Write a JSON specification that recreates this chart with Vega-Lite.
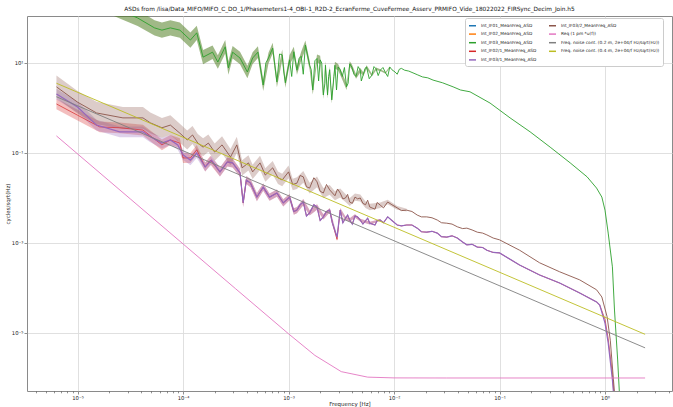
{
 "$schema": "https://vega.github.io/schema/vega-lite/v6.json",
 "width": 645, "height": 375,
 "autosize": {"type": "none"},
 "padding": {"left": 27, "top": 16, "right": 1, "bottom": 16},
 "background": "white",
 "title": {"text": "ASDs from /lisa/Data_MIFO/MIFO_C_DO_1/Phasemeters1-4_OBI-1_R2D-2_EcranFerme_CuveFermee_Asserv_PRMIFO_Vide_18022022_FIRSync_Decim_Join.h5", "fontSize": 5.8, "fontWeight": "normal", "font": "DejaVu Sans", "offset": 4, "anchor": "middle", "color": "#111"},
 "config": {
  "view": {"stroke": "#8a8a8a", "strokeWidth": 1},
  "axis": {"labelFont": "DejaVu Sans", "titleFont": "DejaVu Sans", "labelFontSize": 5.3, "titleFontSize": 5.5, "titleFontWeight": "normal", "labelColor": "#222", "titleColor": "#222", "tickColor": "#444", "tickWidth": 0.6, "domain": false, "gridColor": "#dcdcdc", "gridWidth": 0.9},
  "legend": {"labelFont": "DejaVu Sans", "labelFontSize": 4.3, "labelColor": "#222", "symbolType": "stroke", "symbolSize": 49, "symbolStrokeWidth": 1.5, "rowPadding": 0.6, "columnPadding": 9, "padding": 3, "fillColor": "white", "strokeColor": "#cccccc", "cornerRadius": 2, "labelOffset": 4, "labelLimit": 300}
 },
 "datasets": {
  "asd": [
   {"series":"Int_IF03_MeanFreq_ASD","freq":6.31e-6,"asd":562.3,"lo":371.5,"hi":851.1},
   {"series":"Int_IF03_MeanFreq_ASD","freq":1e-5,"asd":371.5,"lo":245.5,"hi":562.3},
   {"series":"Int_IF03_MeanFreq_ASD","freq":1.585e-5,"asd":234.4,"lo":154.9,"hi":354.8},
   {"series":"Int_IF03_MeanFreq_ASD","freq":2.512e-5,"asd":147.9,"lo":97.72,"hi":223.9},
   {"series":"Int_IF03_MeanFreq_ASD","freq":3.715e-5,"asd":100,"lo":66.07,"hi":151.4},
   {"series":"Int_IF03_MeanFreq_ASD","freq":5.37e-5,"asd":60.26,"lo":40.74,"hi":89.13},
   {"series":"Int_IF03_MeanFreq_ASD","freq":6.31e-5,"asd":53.7,"lo":36.31,"hi":79.43},
   {"series":"Int_IF03_MeanFreq_ASD","freq":7.586e-5,"asd":60.26,"lo":40.74,"hi":89.13},
   {"series":"Int_IF03_MeanFreq_ASD","freq":9.333e-5,"asd":53.7,"lo":36.31,"hi":79.43},
   {"series":"Int_IF03_MeanFreq_ASD","freq":1.175e-4,"asd":32.36,"lo":21.88,"hi":47.86},
   {"series":"Int_IF03_MeanFreq_ASD","freq":1.349e-4,"asd":46.77,"lo":32.36,"hi":67.61},
   {"series":"Int_IF03_MeanFreq_ASD","freq":1.549e-4,"asd":13.49,"lo":9.333,"hi":19.5},
   {"series":"Int_IF03_MeanFreq_ASD","freq":1.905e-4,"asd":17.38,"lo":12.3,"hi":24.55},
   {"series":"Int_IF03_MeanFreq_ASD","freq":2.138e-4,"asd":10.47,"lo":7.413,"hi":14.79},
   {"series":"Int_IF03_MeanFreq_ASD","freq":2.512e-4,"asd":22.91,"lo":16.22,"hi":32.36},
   {"series":"Int_IF03_MeanFreq_ASD","freq":2.692e-4,"asd":7.762,"lo":5.495,"hi":10.96},
   {"series":"Int_IF03_MeanFreq_ASD","freq":2.951e-4,"asd":17.38,"lo":12.59,"hi":23.99},
   {"series":"Int_IF03_MeanFreq_ASD","freq":3.467e-4,"asd":12.88,"lo":9.333,"hi":17.78},
   {"series":"Int_IF03_MeanFreq_ASD","freq":4.074e-4,"asd":6.31,"lo":4.571,"hi":8.71},
   {"series":"Int_IF03_MeanFreq_ASD","freq":4.571e-4,"asd":12.88,"lo":9.55,"hi":17.38},
   {"series":"Int_IF03_MeanFreq_ASD","freq":5.129e-4,"asd":17.38,"lo":12.88,"hi":23.44},
   {"series":"Int_IF03_MeanFreq_ASD","freq":5.754e-4,"asd":3.236,"lo":2.399,"hi":4.365},
   {"series":"Int_IF03_MeanFreq_ASD","freq":6.457e-4,"asd":12.88,"lo":9.772,"hi":16.98},
   {"series":"Int_IF03_MeanFreq_ASD","freq":7.079e-4,"asd":21.38,"lo":16.22,"hi":28.18},
   {"series":"Int_IF03_MeanFreq_ASD","freq":7.762e-4,"asd":3.802,"lo":2.884,"hi":5.012},
   {"series":"Int_IF03_MeanFreq_ASD","freq":8.71e-4,"asd":15.14,"lo":11.48,"hi":19.95},
   {"series":"Int_IF03_MeanFreq_ASD","freq":9.333e-4,"asd":3.631,"lo":2.818,"hi":4.677},
   {"series":"Int_IF03_MeanFreq_ASD","freq":1.023e-3,"asd":11.75,"lo":9.12,"hi":15.14},
   {"series":"Int_IF03_MeanFreq_ASD","freq":1.122e-3,"asd":17.78,"lo":13.8,"hi":22.91},
   {"series":"Int_IF03_MeanFreq_ASD","freq":1.202e-3,"asd":6.918,"lo":5.495,"hi":8.71},
   {"series":"Int_IF03_MeanFreq_ASD","freq":1.318e-3,"asd":14.13,"lo":11.22,"hi":17.78},
   {"series":"Int_IF03_MeanFreq_ASD","freq":1.445e-3,"asd":25.12,"lo":19.95,"hi":31.62},
   {"series":"Int_IF03_MeanFreq_ASD","freq":1.585e-3,"asd":8.913,"lo":7.079,"hi":11.22},
   {"series":"Int_IF03_MeanFreq_ASD","freq":1.698e-3,"asd":2.512,"lo":1.995,"hi":3.162},
   {"series":"Int_IF03_MeanFreq_ASD","freq":1.862e-3,"asd":12.59,"lo":10.23,"hi":15.49},
   {"series":"Int_IF03_MeanFreq_ASD","freq":1.995e-3,"asd":11.75,"lo":9.55,"hi":14.45},
   {"series":"Int_IF03_MeanFreq_ASD","freq":2.138e-3,"asd":1.95,"lo":1.585,"hi":2.399},
   {"series":"Int_IF03_MeanFreq_ASD","freq":2.239e-3,"asd":8.913,"lo":7.244,"hi":10.96},
   {"series":"Int_IF03_MeanFreq_ASD","freq":2.344e-3,"asd":1.95,"lo":1.622,"hi":2.344},
   {"series":"Int_IF03_MeanFreq_ASD","freq":2.455e-3,"asd":7.079,"lo":5.888,"hi":8.511},
   {"series":"Int_IF03_MeanFreq_ASD","freq":2.57e-3,"asd":1.514,"lo":1.259,"hi":1.82},
   {"series":"Int_IF03_MeanFreq_ASD","freq":2.754e-3,"asd":8.913,"lo":7.413,"hi":10.72},
   {"series":"Int_IF03_MeanFreq_ASD","freq":2.951e-3,"asd":8.128,"lo":6.918,"hi":9.55},
   {"series":"Int_IF03_MeanFreq_ASD","freq":3.236e-3,"asd":5.012,"lo":4.266,"hi":5.888},
   {"series":"Int_IF03_MeanFreq_ASD","freq":3.548e-3,"asd":2.951,"lo":2.512,"hi":3.467},
   {"series":"Int_IF03_MeanFreq_ASD","freq":3.802e-3,"asd":9.55,"lo":8.318,"hi":10.96},
   {"series":"Int_IF03_MeanFreq_ASD","freq":3.981e-3,"asd":8.128,"lo":7.079,"hi":9.333},
   {"series":"Int_IF03_MeanFreq_ASD","freq":4.365e-3,"asd":5.012,"lo":4.467,"hi":5.623},
   {"series":"Int_IF03_MeanFreq_ASD","freq":4.786e-3,"asd":6.918,"lo":6.166,"hi":7.762},
   {"series":"Int_IF03_MeanFreq_ASD","freq":5.129e-3,"asd":5.623,"lo":5.129,"hi":6.166},
   {"series":"Int_IF03_MeanFreq_ASD","freq":5.495e-3,"asd":8.128,"lo":7.413,"hi":8.913},
   {"series":"Int_IF03_MeanFreq_ASD","freq":6.166e-3,"asd":5.37,"lo":5.012,"hi":5.754},
   {"series":"Int_IF03_MeanFreq_ASD","freq":6.761e-3,"asd":7.413,"lo":6.918,"hi":7.943},
   {"series":"Int_IF03_MeanFreq_ASD","freq":7.413e-3,"asd":6.918,"lo":6.607,"hi":7.244},
   {"series":"Int_IF03_MeanFreq_ASD","freq":8.318e-3,"asd":6.026,"lo":5.754,"hi":6.31},
   {"series":"Int_IF03_MeanFreq_ASD","freq":9.12e-3,"asd":8.128,"lo":7.762,"hi":8.511},
   {"series":"Int_IF03_MeanFreq_ASD","freq":1.023e-2,"asd":6.31},
   {"series":"Int_IF03_MeanFreq_ASD","freq":1.122e-2,"asd":7.244},
   {"series":"Int_IF03_MeanFreq_ASD","freq":1.259e-2,"asd":6.918},
   {"series":"Int_IF03_MeanFreq_ASD","freq":1.514e-2,"asd":6.026},
   {"series":"Int_IF03_MeanFreq_ASD","freq":1.862e-2,"asd":4.898},
   {"series":"Int_IF03_MeanFreq_ASD","freq":2.344e-2,"asd":4.169},
   {"series":"Int_IF03_MeanFreq_ASD","freq":2.884e-2,"asd":3.631},
   {"series":"Int_IF03_MeanFreq_ASD","freq":3.631e-2,"asd":2.951},
   {"series":"Int_IF03_MeanFreq_ASD","freq":4.266e-2,"asd":2.512},
   {"series":"Int_IF03_MeanFreq_ASD","freq":5.248e-2,"asd":2.291},
   {"series":"Int_IF03_MeanFreq_ASD","freq":8.128e-2,"asd":1.288},
   {"series":"Int_IF03_MeanFreq_ASD","freq":0.1259,"asd":0.6026},
   {"series":"Int_IF03_MeanFreq_ASD","freq":0.195,"asd":0.2951},
   {"series":"Int_IF03_MeanFreq_ASD","freq":0.302,"asd":0.1349},
   {"series":"Int_IF03_MeanFreq_ASD","freq":0.4677,"asd":0.06026},
   {"series":"Int_IF03_MeanFreq_ASD","freq":0.6761,"asd":0.02951},
   {"series":"Int_IF03_MeanFreq_ASD","freq":0.8318,"asd":0.0166},
   {"series":"Int_IF03_MeanFreq_ASD","freq":0.9333,"asd":0.01047},
   {"series":"Int_IF03_MeanFreq_ASD","freq":1,"asd":5.37e-3},
   {"series":"Int_IF03_MeanFreq_ASD","freq":1.072,"asd":1.66e-3},
   {"series":"Int_IF03_MeanFreq_ASD","freq":1.175,"asd":2.951e-4},
   {"series":"Int_IF03_MeanFreq_ASD","freq":1.23,"asd":3.236e-5},
   {"series":"Int_IF03_MeanFreq_ASD","freq":1.318,"asd":2.512e-6},
   {"series":"Int_IF03_MeanFreq_ASD","freq":1.38,"asd":3.236e-7},
   {"series":"Int_IF03_MeanFreq_ASD","freq":6.095e-4,"asd":10},
   {"series":"Int_IF03_MeanFreq_ASD","freq":7.413e-4,"asd":8.913},
   {"series":"Int_IF03_MeanFreq_ASD","freq":8.222e-4,"asd":15.85},
   {"series":"Int_IF03_MeanFreq_ASD","freq":9.016e-4,"asd":6.31},
   {"series":"Int_IF03_MeanFreq_ASD","freq":1.072e-3,"asd":5.012},
   {"series":"Int_IF03_MeanFreq_ASD","freq":1.259e-3,"asd":12.59},
   {"series":"Int_IF03_MeanFreq_ASD","freq":1.38e-3,"asd":5.623},
   {"series":"Int_IF03_MeanFreq_ASD","freq":1.641e-3,"asd":7.079},
   {"series":"Int_IF03_MeanFreq_ASD","freq":1.778e-3,"asd":11.22},
   {"series":"Int_IF03_MeanFreq_ASD","freq":1.928e-3,"asd":3.981},
   {"series":"Int_IF03_MeanFreq_ASD","freq":2.065e-3,"asd":10},
   {"series":"Int_IF03_MeanFreq_ASD","freq":2.213e-3,"asd":3.548},
   {"series":"Int_IF03_MeanFreq_ASD","freq":2.399e-3,"asd":5.012},
   {"series":"Int_IF03_MeanFreq_ASD","freq":2.692e-3,"asd":5.012},
   {"series":"Int_IF03_MeanFreq_ASD","freq":2.851e-3,"asd":2.512},
   {"series":"Int_IF03_MeanFreq_ASD","freq":3.09e-3,"asd":7.079},
   {"series":"Int_IF03_MeanFreq_ASD","freq":3.388e-3,"asd":7.943},
   {"series":"Int_IF03_MeanFreq_ASD","freq":3.673e-3,"asd":3.548},
   {"series":"Int_IF03_MeanFreq_ASD","freq":4.169e-3,"asd":5.623},
   {"series":"Int_IF03_MeanFreq_ASD","freq":4.571e-3,"asd":8.318},
   {"series":"Int_IF03_MeanFreq_ASD","freq":4.898e-3,"asd":3.981},
   {"series":"Int_IF03_MeanFreq_ASD","freq":5.309e-3,"asd":7.586},
   {"series":"Int_IF03_MeanFreq_ASD","freq":5.821e-3,"asd":4.467},
   {"series":"Int_IF03_MeanFreq_ASD","freq":6.457e-3,"asd":8.318},
   {"series":"Int_IF03_MeanFreq_ASD","freq":7.079e-3,"asd":5.248},
   {"series":"Int_IF03_MeanFreq_ASD","freq":7.852e-3,"asd":7.943},
   {"series":"Int_IF03_MeanFreq_ASD","freq":8.71e-3,"asd":5.012},
   {"series":"Int_IF03_MeanFreq_ASD","freq":9.55e-3,"asd":7.079},
   {"series":"Int_IF03_MeanFreq_ASD","freq":1.072e-2,"asd":5.623},
   {"series":"Int_IF03_MeanFreq_ASD","freq":1.175e-2,"asd":7.586},
   {"series":"Int_IF03_MeanFreq_ASD","freq":1.38e-2,"asd":6.607},
   {"series":"Int_IF03_MeanFreq_ASD","freq":1.66e-2,"asd":5.495},
   {"series":"Int_IF03_MeanFreq_ASD","freq":2.089e-2,"asd":4.677},

   {"series":"Int_IF02/1_MeanFreq_ASD","freq":6.31e-6,"asd":1.23,"lo":0.9333,"hi":1.622},
   {"series":"Int_IF02/1_MeanFreq_ASD","freq":1e-5,"asd":0.6918,"lo":0.5248,"hi":0.912},
   {"series":"Int_IF02/1_MeanFreq_ASD","freq":1.622e-5,"asd":0.3802,"lo":0.2884,"hi":0.5012},
   {"series":"Int_IF02/1_MeanFreq_ASD","freq":2.512e-5,"asd":0.3631,"lo":0.2754,"hi":0.4786},
   {"series":"Int_IF02/1_MeanFreq_ASD","freq":4.169e-5,"asd":0.3236,"lo":0.2455,"hi":0.4266},
   {"series":"Int_IF02/1_MeanFreq_ASD","freq":6.31e-5,"asd":0.1514,"lo":0.1148,"hi":0.1995},
   {"series":"Int_IF02/1_MeanFreq_ASD","freq":7.586e-5,"asd":0.195,"lo":0.1514,"hi":0.2512},
   {"series":"Int_IF02/1_MeanFreq_ASD","freq":9.333e-5,"asd":0.166,"lo":0.1288,"hi":0.2138},
   {"series":"Int_IF02/1_MeanFreq_ASD","freq":1e-4,"asd":0.07762,"lo":0.06026,"hi":0.1},
   {"series":"Int_IF02/1_MeanFreq_ASD","freq":1.175e-4,"asd":0.07762,"lo":0.06026,"hi":0.1},
   {"series":"Int_IF02/1_MeanFreq_ASD","freq":1.349e-4,"asd":0.1175,"lo":0.0912,"hi":0.1514},
   {"series":"Int_IF02/1_MeanFreq_ASD","freq":1.622e-4,"asd":0.04898,"lo":0.0389,"hi":0.06166},
   {"series":"Int_IF02/1_MeanFreq_ASD","freq":1.82e-4,"asd":0.06918,"lo":0.05495,"hi":0.0871},
   {"series":"Int_IF02/1_MeanFreq_ASD","freq":2.239e-4,"asd":0.03802,"lo":0.0302,"hi":0.04786},
   {"series":"Int_IF02/1_MeanFreq_ASD","freq":2.63e-4,"asd":0.0631,"lo":0.05012,"hi":0.07943},
   {"series":"Int_IF02/1_MeanFreq_ASD","freq":2.951e-4,"asd":0.06026,"lo":0.04786,"hi":0.07586},
   {"series":"Int_IF02/1_MeanFreq_ASD","freq":3.467e-4,"asd":0.03631,"lo":0.02951,"hi":0.04467},
   {"series":"Int_IF02/1_MeanFreq_ASD","freq":3.715e-4,"asd":7.762e-3,"lo":6.31e-3,"hi":9.55e-3},
   {"series":"Int_IF02/1_MeanFreq_ASD","freq":3.981e-4,"asd":0.02512,"lo":0.02042,"hi":0.0309},
   {"series":"Int_IF02/1_MeanFreq_ASD","freq":4.365e-4,"asd":0.02138,"lo":0.01738,"hi":0.0263},
   {"series":"Int_IF02/1_MeanFreq_ASD","freq":5.012e-4,"asd":0.01047,"lo":8.511e-3,"hi":0.01288},
   {"series":"Int_IF02/1_MeanFreq_ASD","freq":5.754e-4,"asd":0.01738,"lo":0.01445,"hi":0.02089},
   {"series":"Int_IF02/1_MeanFreq_ASD","freq":6.607e-4,"asd":0.01047,"lo":8.71e-3,"hi":0.01259},
   {"series":"Int_IF02/1_MeanFreq_ASD","freq":7.762e-4,"asd":0.01288,"lo":0.01072,"hi":0.01549},
   {"series":"Int_IF02/1_MeanFreq_ASD","freq":8.913e-4,"asd":7.762e-3,"lo":6.457e-3,"hi":9.333e-3},
   {"series":"Int_IF02/1_MeanFreq_ASD","freq":1.023e-3,"asd":0.01047,"lo":8.913e-3,"hi":0.0123},
   {"series":"Int_IF02/1_MeanFreq_ASD","freq":1.122e-3,"asd":5.012e-3,"lo":4.266e-3,"hi":5.888e-3},
   {"series":"Int_IF02/1_MeanFreq_ASD","freq":1.202e-3,"asd":5.37e-3,"lo":4.571e-3,"hi":6.31e-3},
   {"series":"Int_IF02/1_MeanFreq_ASD","freq":1.38e-3,"asd":8.128e-3,"lo":6.918e-3,"hi":9.55e-3},
   {"series":"Int_IF02/1_MeanFreq_ASD","freq":1.585e-3,"asd":4.677e-3,"lo":4.074e-3,"hi":5.37e-3},
   {"series":"Int_IF02/1_MeanFreq_ASD","freq":1.862e-3,"asd":6.31e-3,"lo":5.495e-3,"hi":7.244e-3},
   {"series":"Int_IF02/1_MeanFreq_ASD","freq":2.138e-3,"asd":3.802e-3,"lo":3.311e-3,"hi":4.365e-3},
   {"series":"Int_IF02/1_MeanFreq_ASD","freq":2.455e-3,"asd":5.37e-3,"lo":4.786e-3,"hi":6.026e-3},
   {"series":"Int_IF02/1_MeanFreq_ASD","freq":2.884e-3,"asd":1.2e-3,"lo":1.1e-3,"hi":1.4e-3},
   {"series":"Int_IF02/1_MeanFreq_ASD","freq":3.09e-3,"asd":5.37e-3,"lo":4.786e-3,"hi":6.026e-3},
   {"series":"Int_IF02/1_MeanFreq_ASD","freq":3.467e-3,"asd":3.548e-3,"lo":3.236e-3,"hi":3.89e-3},
   {"series":"Int_IF02/1_MeanFreq_ASD","freq":3.802e-3,"asd":3.236e-3,"lo":2.951e-3,"hi":3.548e-3},
   {"series":"Int_IF02/1_MeanFreq_ASD","freq":4.266e-3,"asd":3.981e-3,"lo":3.631e-3,"hi":4.365e-3},
   {"series":"Int_IF02/1_MeanFreq_ASD","freq":4.786e-3,"asd":3.236e-3,"lo":3.02e-3,"hi":3.467e-3},
   {"series":"Int_IF02/1_MeanFreq_ASD","freq":5.888e-3,"asd":2.754e-3,"lo":2.57e-3,"hi":2.951e-3},
   {"series":"Int_IF02/1_MeanFreq_ASD","freq":7.413e-3,"asd":3.236e-3,"lo":3.09e-3,"hi":3.388e-3},
   {"series":"Int_IF02/1_MeanFreq_ASD","freq":8.71e-3,"asd":3.802e-3},
   {"series":"Int_IF02/1_MeanFreq_ASD","freq":1.072e-2,"asd":2.512e-3},
   {"series":"Int_IF02/1_MeanFreq_ASD","freq":1.318e-2,"asd":2.512e-3},
   {"series":"Int_IF02/1_MeanFreq_ASD","freq":1.66e-2,"asd":2.138e-3},
   {"series":"Int_IF02/1_MeanFreq_ASD","freq":2.042e-2,"asd":1.738e-3},
   {"series":"Int_IF02/1_MeanFreq_ASD","freq":2.57e-2,"asd":1.66e-3},
   {"series":"Int_IF02/1_MeanFreq_ASD","freq":3.162e-2,"asd":1.349e-3},
   {"series":"Int_IF02/1_MeanFreq_ASD","freq":3.981e-2,"asd":1.288e-3},
   {"series":"Int_IF02/1_MeanFreq_ASD","freq":4.898e-2,"asd":9.12e-4},
   {"series":"Int_IF02/1_MeanFreq_ASD","freq":6.166e-2,"asd":8.128e-4},
   {"series":"Int_IF02/1_MeanFreq_ASD","freq":7.586e-2,"asd":6.918e-4},
   {"series":"Int_IF02/1_MeanFreq_ASD","freq":0.1,"asd":6.026e-4},
   {"series":"Int_IF02/1_MeanFreq_ASD","freq":0.1549,"asd":3.236e-4},
   {"series":"Int_IF02/1_MeanFreq_ASD","freq":0.2399,"asd":1.95e-4},
   {"series":"Int_IF02/1_MeanFreq_ASD","freq":0.3715,"asd":1.288e-4},
   {"series":"Int_IF02/1_MeanFreq_ASD","freq":0.5754,"asd":7.762e-5},
   {"series":"Int_IF02/1_MeanFreq_ASD","freq":0.8318,"asd":4.898e-5},
   {"series":"Int_IF02/1_MeanFreq_ASD","freq":0.8913,"asd":4.169e-5},
   {"series":"Int_IF02/1_MeanFreq_ASD","freq":1,"asd":2.0e-5},
   {"series":"Int_IF02/1_MeanFreq_ASD","freq":1.072,"asd":7.5e-6},
   {"series":"Int_IF02/1_MeanFreq_ASD","freq":1.175,"asd":1.2e-6},
   {"series":"Int_IF02/1_MeanFreq_ASD","freq":1.23,"asd":3.0e-7},
   {"series":"Int_IF02/1_MeanFreq_ASD","freq":1.288e-3,"asd":7.079e-3},
   {"series":"Int_IF02/1_MeanFreq_ASD","freq":1.479e-3,"asd":3.981e-3},
   {"series":"Int_IF02/1_MeanFreq_ASD","freq":1.738e-3,"asd":7.079e-3},
   {"series":"Int_IF02/1_MeanFreq_ASD","freq":1.995e-3,"asd":3.162e-3},
   {"series":"Int_IF02/1_MeanFreq_ASD","freq":2.291e-3,"asd":5.012e-3},
   {"series":"Int_IF02/1_MeanFreq_ASD","freq":2.6e-3,"asd":2.818e-3},
   {"series":"Int_IF02/1_MeanFreq_ASD","freq":3.273e-3,"asd":2.818e-3},
   {"series":"Int_IF02/1_MeanFreq_ASD","freq":3.631e-3,"asd":4.169e-3},
   {"series":"Int_IF02/1_MeanFreq_ASD","freq":4.027e-3,"asd":2.63e-3},
   {"series":"Int_IF02/1_MeanFreq_ASD","freq":4.519e-3,"asd":3.802e-3},
   {"series":"Int_IF02/1_MeanFreq_ASD","freq":5.07e-3,"asd":2.63e-3},
   {"series":"Int_IF02/1_MeanFreq_ASD","freq":5.623e-3,"asd":3.548e-3},
   {"series":"Int_IF02/1_MeanFreq_ASD","freq":6.607e-3,"asd":2.512e-3},
   {"series":"Int_IF02/1_MeanFreq_ASD","freq":6.918e-3,"asd":3.162e-3},
   {"series":"Int_IF02/1_MeanFreq_ASD","freq":7.943e-3,"asd":2.818e-3},
   {"series":"Int_IF02/1_MeanFreq_ASD","freq":9.55e-3,"asd":3.162e-3},
   {"series":"Int_IF02/1_MeanFreq_ASD","freq":1.175e-2,"asd":2.399e-3},
   {"series":"Int_IF02/1_MeanFreq_ASD","freq":1.479e-2,"asd":2.512e-3},
   {"series":"Int_IF02/1_MeanFreq_ASD","freq":1.82e-2,"asd":1.778e-3},
   {"series":"Int_IF02/1_MeanFreq_ASD","freq":2.291e-2,"asd":1.82e-3},
   {"series":"Int_IF02/1_MeanFreq_ASD","freq":2.818e-2,"asd":1.38e-3},
   {"series":"Int_IF02/1_MeanFreq_ASD","freq":3.548e-2,"asd":1.445e-3},
   {"series":"Int_IF02/1_MeanFreq_ASD","freq":4.467e-2,"asd":1.047e-3},
   {"series":"Int_IF02/1_MeanFreq_ASD","freq":5.495e-2,"asd":9.333e-4},
   {"series":"Int_IF02/1_MeanFreq_ASD","freq":6.918e-2,"asd":7.943e-4},
   {"series":"Int_IF02/1_MeanFreq_ASD","freq":8.71e-2,"asd":6.166e-4},

   {"series":"Int_IF03/1_MeanFreq_ASD","freq":6.31e-6,"asd":2.042,"lo":1.549,"hi":2.692},
   {"series":"Int_IF03/1_MeanFreq_ASD","freq":1e-5,"asd":1.047,"lo":0.7943,"hi":1.38},
   {"series":"Int_IF03/1_MeanFreq_ASD","freq":1.514e-5,"asd":0.4169,"lo":0.3162,"hi":0.5495},
   {"series":"Int_IF03/1_MeanFreq_ASD","freq":2.512e-5,"asd":0.2951,"lo":0.2239,"hi":0.389},
   {"series":"Int_IF03/1_MeanFreq_ASD","freq":4.169e-5,"asd":0.2951,"lo":0.2239,"hi":0.389},
   {"series":"Int_IF03/1_MeanFreq_ASD","freq":4.898e-5,"asd":0.2291,"lo":0.1738,"hi":0.302},
   {"series":"Int_IF03/1_MeanFreq_ASD","freq":6.31e-5,"asd":0.166,"lo":0.1259,"hi":0.2188},
   {"series":"Int_IF03/1_MeanFreq_ASD","freq":7.586e-5,"asd":0.195,"lo":0.1514,"hi":0.2512},
   {"series":"Int_IF03/1_MeanFreq_ASD","freq":8.913e-5,"asd":0.1514,"lo":0.1175,"hi":0.195},
   {"series":"Int_IF03/1_MeanFreq_ASD","freq":1e-4,"asd":0.0912,"lo":0.07079,"hi":0.1175},
   {"series":"Int_IF03/1_MeanFreq_ASD","freq":1.175e-4,"asd":0.06918,"lo":0.0537,"hi":0.08913},
   {"series":"Int_IF03/1_MeanFreq_ASD","freq":1.349e-4,"asd":0.1,"lo":0.07762,"hi":0.1288},
   {"series":"Int_IF03/1_MeanFreq_ASD","freq":1.622e-4,"asd":0.04898,"lo":0.0389,"hi":0.06166},
   {"series":"Int_IF03/1_MeanFreq_ASD","freq":1.862e-4,"asd":0.06918,"lo":0.05495,"hi":0.0871},
   {"series":"Int_IF03/1_MeanFreq_ASD","freq":2.239e-4,"asd":0.03802,"lo":0.0302,"hi":0.04786},
   {"series":"Int_IF03/1_MeanFreq_ASD","freq":2.63e-4,"asd":0.0631,"lo":0.05012,"hi":0.07943},
   {"series":"Int_IF03/1_MeanFreq_ASD","freq":2.951e-4,"asd":0.06026,"lo":0.04786,"hi":0.07586},
   {"series":"Int_IF03/1_MeanFreq_ASD","freq":3.467e-4,"asd":0.03631,"lo":0.02951,"hi":0.04467},
   {"series":"Int_IF03/1_MeanFreq_ASD","freq":3.715e-4,"asd":7.762e-3,"lo":6.31e-3,"hi":9.55e-3},
   {"series":"Int_IF03/1_MeanFreq_ASD","freq":3.981e-4,"asd":0.02512,"lo":0.02042,"hi":0.0309},
   {"series":"Int_IF03/1_MeanFreq_ASD","freq":4.365e-4,"asd":0.02138,"lo":0.01738,"hi":0.0263},
   {"series":"Int_IF03/1_MeanFreq_ASD","freq":5.012e-4,"asd":0.01047,"lo":8.511e-3,"hi":0.01288},
   {"series":"Int_IF03/1_MeanFreq_ASD","freq":5.754e-4,"asd":0.01738,"lo":0.01445,"hi":0.02089},
   {"series":"Int_IF03/1_MeanFreq_ASD","freq":6.607e-4,"asd":0.01047,"lo":8.71e-3,"hi":0.01259},
   {"series":"Int_IF03/1_MeanFreq_ASD","freq":7.762e-4,"asd":0.01288,"lo":0.01072,"hi":0.01549},
   {"series":"Int_IF03/1_MeanFreq_ASD","freq":8.913e-4,"asd":7.762e-3,"lo":6.457e-3,"hi":9.333e-3},
   {"series":"Int_IF03/1_MeanFreq_ASD","freq":1.023e-3,"asd":0.01047,"lo":8.913e-3,"hi":0.0123},
   {"series":"Int_IF03/1_MeanFreq_ASD","freq":1.122e-3,"asd":5.012e-3,"lo":4.266e-3,"hi":5.888e-3},
   {"series":"Int_IF03/1_MeanFreq_ASD","freq":1.202e-3,"asd":5.37e-3,"lo":4.571e-3,"hi":6.31e-3},
   {"series":"Int_IF03/1_MeanFreq_ASD","freq":1.38e-3,"asd":8.128e-3,"lo":6.918e-3,"hi":9.55e-3},
   {"series":"Int_IF03/1_MeanFreq_ASD","freq":1.585e-3,"asd":4.677e-3,"lo":4.074e-3,"hi":5.37e-3},
   {"series":"Int_IF03/1_MeanFreq_ASD","freq":1.862e-3,"asd":6.31e-3,"lo":5.495e-3,"hi":7.244e-3},
   {"series":"Int_IF03/1_MeanFreq_ASD","freq":2.138e-3,"asd":3.802e-3,"lo":3.311e-3,"hi":4.365e-3},
   {"series":"Int_IF03/1_MeanFreq_ASD","freq":2.455e-3,"asd":5.37e-3,"lo":4.786e-3,"hi":6.026e-3},
   {"series":"Int_IF03/1_MeanFreq_ASD","freq":2.884e-3,"asd":1.349e-3,"lo":1.202e-3,"hi":1.514e-3},
   {"series":"Int_IF03/1_MeanFreq_ASD","freq":3.09e-3,"asd":5.37e-3,"lo":4.786e-3,"hi":6.026e-3},
   {"series":"Int_IF03/1_MeanFreq_ASD","freq":3.467e-3,"asd":3.548e-3,"lo":3.236e-3,"hi":3.89e-3},
   {"series":"Int_IF03/1_MeanFreq_ASD","freq":3.802e-3,"asd":3.236e-3,"lo":2.951e-3,"hi":3.548e-3},
   {"series":"Int_IF03/1_MeanFreq_ASD","freq":4.266e-3,"asd":3.981e-3,"lo":3.631e-3,"hi":4.365e-3},
   {"series":"Int_IF03/1_MeanFreq_ASD","freq":4.786e-3,"asd":3.236e-3,"lo":3.02e-3,"hi":3.467e-3},
   {"series":"Int_IF03/1_MeanFreq_ASD","freq":5.888e-3,"asd":2.754e-3,"lo":2.57e-3,"hi":2.951e-3},
   {"series":"Int_IF03/1_MeanFreq_ASD","freq":7.413e-3,"asd":3.236e-3,"lo":3.09e-3,"hi":3.388e-3},
   {"series":"Int_IF03/1_MeanFreq_ASD","freq":8.71e-3,"asd":3.802e-3},
   {"series":"Int_IF03/1_MeanFreq_ASD","freq":1.072e-2,"asd":2.512e-3},
   {"series":"Int_IF03/1_MeanFreq_ASD","freq":1.318e-2,"asd":2.512e-3},
   {"series":"Int_IF03/1_MeanFreq_ASD","freq":1.66e-2,"asd":2.138e-3},
   {"series":"Int_IF03/1_MeanFreq_ASD","freq":2.042e-2,"asd":1.738e-3},
   {"series":"Int_IF03/1_MeanFreq_ASD","freq":2.57e-2,"asd":1.66e-3},
   {"series":"Int_IF03/1_MeanFreq_ASD","freq":3.162e-2,"asd":1.349e-3},
   {"series":"Int_IF03/1_MeanFreq_ASD","freq":3.981e-2,"asd":1.288e-3},
   {"series":"Int_IF03/1_MeanFreq_ASD","freq":4.898e-2,"asd":9.12e-4},
   {"series":"Int_IF03/1_MeanFreq_ASD","freq":6.166e-2,"asd":8.128e-4},
   {"series":"Int_IF03/1_MeanFreq_ASD","freq":7.586e-2,"asd":6.918e-4},
   {"series":"Int_IF03/1_MeanFreq_ASD","freq":0.1,"asd":6.026e-4},
   {"series":"Int_IF03/1_MeanFreq_ASD","freq":0.1549,"asd":3.236e-4},
   {"series":"Int_IF03/1_MeanFreq_ASD","freq":0.2399,"asd":1.95e-4},
   {"series":"Int_IF03/1_MeanFreq_ASD","freq":0.3715,"asd":1.288e-4},
   {"series":"Int_IF03/1_MeanFreq_ASD","freq":0.5754,"asd":7.762e-5},
   {"series":"Int_IF03/1_MeanFreq_ASD","freq":0.8318,"asd":4.898e-5},
   {"series":"Int_IF03/1_MeanFreq_ASD","freq":0.8913,"asd":4.169e-5},
   {"series":"Int_IF03/1_MeanFreq_ASD","freq":1,"asd":1.66e-5},
   {"series":"Int_IF03/1_MeanFreq_ASD","freq":1.072,"asd":6.026e-6},
   {"series":"Int_IF03/1_MeanFreq_ASD","freq":1.175,"asd":9.12e-7},
   {"series":"Int_IF03/1_MeanFreq_ASD","freq":1.23,"asd":2.512e-7},
   {"series":"Int_IF03/1_MeanFreq_ASD","freq":1.288e-3,"asd":7.079e-3},
   {"series":"Int_IF03/1_MeanFreq_ASD","freq":1.479e-3,"asd":3.981e-3},
   {"series":"Int_IF03/1_MeanFreq_ASD","freq":1.738e-3,"asd":7.079e-3},
   {"series":"Int_IF03/1_MeanFreq_ASD","freq":1.995e-3,"asd":3.162e-3},
   {"series":"Int_IF03/1_MeanFreq_ASD","freq":2.291e-3,"asd":5.012e-3},
   {"series":"Int_IF03/1_MeanFreq_ASD","freq":2.6e-3,"asd":2.818e-3},
   {"series":"Int_IF03/1_MeanFreq_ASD","freq":3.273e-3,"asd":2.818e-3},
   {"series":"Int_IF03/1_MeanFreq_ASD","freq":3.631e-3,"asd":4.169e-3},
   {"series":"Int_IF03/1_MeanFreq_ASD","freq":4.027e-3,"asd":2.63e-3},
   {"series":"Int_IF03/1_MeanFreq_ASD","freq":4.519e-3,"asd":3.802e-3},
   {"series":"Int_IF03/1_MeanFreq_ASD","freq":5.07e-3,"asd":2.63e-3},
   {"series":"Int_IF03/1_MeanFreq_ASD","freq":5.623e-3,"asd":3.548e-3},
   {"series":"Int_IF03/1_MeanFreq_ASD","freq":6.607e-3,"asd":2.512e-3},
   {"series":"Int_IF03/1_MeanFreq_ASD","freq":6.918e-3,"asd":3.162e-3},
   {"series":"Int_IF03/1_MeanFreq_ASD","freq":7.943e-3,"asd":2.818e-3},
   {"series":"Int_IF03/1_MeanFreq_ASD","freq":9.55e-3,"asd":3.162e-3},
   {"series":"Int_IF03/1_MeanFreq_ASD","freq":1.175e-2,"asd":2.399e-3},
   {"series":"Int_IF03/1_MeanFreq_ASD","freq":1.479e-2,"asd":2.512e-3},
   {"series":"Int_IF03/1_MeanFreq_ASD","freq":1.82e-2,"asd":1.778e-3},
   {"series":"Int_IF03/1_MeanFreq_ASD","freq":2.291e-2,"asd":1.82e-3},
   {"series":"Int_IF03/1_MeanFreq_ASD","freq":2.818e-2,"asd":1.38e-3},
   {"series":"Int_IF03/1_MeanFreq_ASD","freq":3.548e-2,"asd":1.445e-3},
   {"series":"Int_IF03/1_MeanFreq_ASD","freq":4.467e-2,"asd":1.047e-3},
   {"series":"Int_IF03/1_MeanFreq_ASD","freq":5.495e-2,"asd":9.333e-4},
   {"series":"Int_IF03/1_MeanFreq_ASD","freq":6.918e-2,"asd":7.943e-4},
   {"series":"Int_IF03/1_MeanFreq_ASD","freq":8.71e-2,"asd":6.166e-4},

   {"series":"Int_IF03/2_MeanFreq_ASD","freq":6.31e-6,"asd":2.951,"lo":1.66,"hi":5.248},
   {"series":"Int_IF03/2_MeanFreq_ASD","freq":1e-5,"asd":1.349,"lo":0.7586,"hi":2.399},
   {"series":"Int_IF03/2_MeanFreq_ASD","freq":1.514e-5,"asd":0.7762,"lo":0.4365,"hi":1.38},
   {"series":"Int_IF03/2_MeanFreq_ASD","freq":2.692e-5,"asd":0.6026,"lo":0.3467,"hi":1.047},
   {"series":"Int_IF03/2_MeanFreq_ASD","freq":4.169e-5,"asd":0.6026,"lo":0.3467,"hi":1.047},
   {"series":"Int_IF03/2_MeanFreq_ASD","freq":4.898e-5,"asd":0.4677,"lo":0.2754,"hi":0.7943},
   {"series":"Int_IF03/2_MeanFreq_ASD","freq":6.31e-5,"asd":0.3631,"lo":0.2188,"hi":0.6026},
   {"series":"Int_IF03/2_MeanFreq_ASD","freq":7.586e-5,"asd":0.4169,"lo":0.2512,"hi":0.6918},
   {"series":"Int_IF03/2_MeanFreq_ASD","freq":9.333e-5,"asd":0.2754,"lo":0.1698,"hi":0.4467},
   {"series":"Int_IF03/2_MeanFreq_ASD","freq":1.096e-4,"asd":0.195,"lo":0.1202,"hi":0.3162},
   {"series":"Int_IF03/2_MeanFreq_ASD","freq":1.23e-4,"asd":0.2512,"lo":0.1585,"hi":0.3981},
   {"series":"Int_IF03/2_MeanFreq_ASD","freq":1.38e-4,"asd":0.166,"lo":0.1047,"hi":0.263},
   {"series":"Int_IF03/2_MeanFreq_ASD","freq":1.549e-4,"asd":0.1349,"lo":0.08511,"hi":0.2138},
   {"series":"Int_IF03/2_MeanFreq_ASD","freq":1.738e-4,"asd":0.166,"lo":0.1072,"hi":0.257},
   {"series":"Int_IF03/2_MeanFreq_ASD","freq":1.995e-4,"asd":0.1047,"lo":0.06761,"hi":0.1622},
   {"series":"Int_IF03/2_MeanFreq_ASD","freq":2.344e-4,"asd":0.1514,"lo":0.09772,"hi":0.2344},
   {"series":"Int_IF03/2_MeanFreq_ASD","freq":2.818e-4,"asd":0.08128,"lo":0.0537,"hi":0.123},
   {"series":"Int_IF03/2_MeanFreq_ASD","freq":3.236e-4,"asd":0.1514,"lo":0.1,"hi":0.2291},
   {"series":"Int_IF03/2_MeanFreq_ASD","freq":3.631e-4,"asd":0.04677,"lo":0.03162,"hi":0.06918},
   {"series":"Int_IF03/2_MeanFreq_ASD","freq":4.169e-4,"asd":0.06026,"lo":0.04074,"hi":0.08913},
   {"series":"Int_IF03/2_MeanFreq_ASD","freq":4.571e-4,"asd":0.03802,"lo":0.0263,"hi":0.05495},
   {"series":"Int_IF03/2_MeanFreq_ASD","freq":5.37e-4,"asd":0.06026,"lo":0.04169,"hi":0.0871},
   {"series":"Int_IF03/2_MeanFreq_ASD","freq":6.026e-4,"asd":0.03236,"lo":0.02291,"hi":0.04571},
   {"series":"Int_IF03/2_MeanFreq_ASD","freq":7.079e-4,"asd":0.04677,"lo":0.03311,"hi":0.06607},
   {"series":"Int_IF03/2_MeanFreq_ASD","freq":7.943e-4,"asd":0.02818,"lo":0.02042,"hi":0.0389},
   {"series":"Int_IF03/2_MeanFreq_ASD","freq":8.71e-4,"asd":0.02512,"lo":0.0182,"hi":0.03467},
   {"series":"Int_IF03/2_MeanFreq_ASD","freq":1e-3,"asd":0.03802,"lo":0.02754,"hi":0.05248},
   {"series":"Int_IF03/2_MeanFreq_ASD","freq":1.096e-3,"asd":0.01995,"lo":0.01479,"hi":0.02692},
   {"series":"Int_IF03/2_MeanFreq_ASD","freq":1.202e-3,"asd":0.02138,"lo":0.01585,"hi":0.02884},
   {"series":"Int_IF03/2_MeanFreq_ASD","freq":1.38e-3,"asd":0.02951,"lo":0.02188,"hi":0.03981},
   {"series":"Int_IF03/2_MeanFreq_ASD","freq":1.585e-3,"asd":0.0166,"lo":0.01259,"hi":0.02188},
   {"series":"Int_IF03/2_MeanFreq_ASD","freq":1.862e-3,"asd":0.02291,"lo":0.01738,"hi":0.0302},
   {"series":"Int_IF03/2_MeanFreq_ASD","freq":2.138e-3,"asd":0.01288,"lo":0.01,"hi":0.0166},
   {"series":"Int_IF03/2_MeanFreq_ASD","freq":2.455e-3,"asd":0.01514,"lo":0.01175,"hi":0.0195},
   {"series":"Int_IF03/2_MeanFreq_ASD","freq":2.754e-3,"asd":0.01122,"lo":8.913e-3,"hi":0.01413},
   {"series":"Int_IF03/2_MeanFreq_ASD","freq":3.09e-3,"asd":0.01288,"lo":0.01023,"hi":0.01622},
   {"series":"Int_IF03/2_MeanFreq_ASD","freq":3.467e-3,"asd":0.01,"lo":8.128e-3,"hi":0.0123},
   {"series":"Int_IF03/2_MeanFreq_ASD","freq":3.802e-3,"asd":8.128e-3,"lo":6.607e-3,"hi":0.01},
   {"series":"Int_IF03/2_MeanFreq_ASD","freq":4.266e-3,"asd":0.01047,"lo":8.71e-3,"hi":0.01259},
   {"series":"Int_IF03/2_MeanFreq_ASD","freq":4.786e-3,"asd":0.01,"lo":8.318e-3,"hi":0.01202},
   {"series":"Int_IF03/2_MeanFreq_ASD","freq":5.37e-3,"asd":7.079e-3,"lo":6.026e-3,"hi":8.318e-3},
   {"series":"Int_IF03/2_MeanFreq_ASD","freq":5.888e-3,"asd":6.31e-3,"lo":5.37e-3,"hi":7.413e-3},
   {"series":"Int_IF03/2_MeanFreq_ASD","freq":7.413e-3,"asd":6.918e-3,"lo":6.026e-3,"hi":7.943e-3},
   {"series":"Int_IF03/2_MeanFreq_ASD","freq":8.71e-3,"asd":8.128e-3,"lo":7.244e-3,"hi":9.12e-3},
   {"series":"Int_IF03/2_MeanFreq_ASD","freq":1.072e-2,"asd":6.026e-3,"lo":5.495e-3,"hi":6.607e-3},
   {"series":"Int_IF03/2_MeanFreq_ASD","freq":1.318e-2,"asd":5.37e-3,"lo":5.012e-3,"hi":5.754e-3},
   {"series":"Int_IF03/2_MeanFreq_ASD","freq":1.66e-2,"asd":4.169e-3},
   {"series":"Int_IF03/2_MeanFreq_ASD","freq":2.042e-2,"asd":3.802e-3},
   {"series":"Int_IF03/2_MeanFreq_ASD","freq":2.57e-2,"asd":3.236e-3},
   {"series":"Int_IF03/2_MeanFreq_ASD","freq":3.162e-2,"asd":2.754e-3},
   {"series":"Int_IF03/2_MeanFreq_ASD","freq":3.981e-2,"asd":2.291e-3},
   {"series":"Int_IF03/2_MeanFreq_ASD","freq":4.898e-2,"asd":2.138e-3},
   {"series":"Int_IF03/2_MeanFreq_ASD","freq":6.166e-2,"asd":1.738e-3},
   {"series":"Int_IF03/2_MeanFreq_ASD","freq":7.586e-2,"asd":1.514e-3},
   {"series":"Int_IF03/2_MeanFreq_ASD","freq":0.1,"asd":1.175e-3},
   {"series":"Int_IF03/2_MeanFreq_ASD","freq":0.1549,"asd":6.918e-4},
   {"series":"Int_IF03/2_MeanFreq_ASD","freq":0.2399,"asd":3.631e-4},
   {"series":"Int_IF03/2_MeanFreq_ASD","freq":0.3715,"asd":2.291e-4},
   {"series":"Int_IF03/2_MeanFreq_ASD","freq":0.5754,"asd":1.514e-4},
   {"series":"Int_IF03/2_MeanFreq_ASD","freq":0.8318,"asd":9.12e-5},
   {"series":"Int_IF03/2_MeanFreq_ASD","freq":0.9333,"asd":6.31e-5},
   {"series":"Int_IF03/2_MeanFreq_ASD","freq":1.047,"asd":2.291e-5},
   {"series":"Int_IF03/2_MeanFreq_ASD","freq":1.122,"asd":6.918e-6},
   {"series":"Int_IF03/2_MeanFreq_ASD","freq":1.202,"asd":9.12e-7},
   {"series":"Int_IF03/2_MeanFreq_ASD","freq":1.259,"asd":2.512e-7},
   {"series":"Int_IF03/2_MeanFreq_ASD","freq":1.288e-3,"asd":0.03162},
   {"series":"Int_IF03/2_MeanFreq_ASD","freq":1.479e-3,"asd":0.01778},
   {"series":"Int_IF03/2_MeanFreq_ASD","freq":1.738e-3,"asd":0.02818},
   {"series":"Int_IF03/2_MeanFreq_ASD","freq":1.995e-3,"asd":0.01413},
   {"series":"Int_IF03/2_MeanFreq_ASD","freq":2.291e-3,"asd":0.01995},
   {"series":"Int_IF03/2_MeanFreq_ASD","freq":2.917e-3,"asd":0.01585},
   {"series":"Int_IF03/2_MeanFreq_ASD","freq":3.273e-3,"asd":9.55e-3},
   {"series":"Int_IF03/2_MeanFreq_ASD","freq":3.631e-3,"asd":0.01202},
   {"series":"Int_IF03/2_MeanFreq_ASD","freq":4.027e-3,"asd":7.586e-3},
   {"series":"Int_IF03/2_MeanFreq_ASD","freq":4.519e-3,"asd":9.55e-3},
   {"series":"Int_IF03/2_MeanFreq_ASD","freq":5.07e-3,"asd":7.586e-3},
   {"series":"Int_IF03/2_MeanFreq_ASD","freq":5.623e-3,"asd":8.913e-3},
   {"series":"Int_IF03/2_MeanFreq_ASD","freq":6.607e-3,"asd":5.623e-3},
   {"series":"Int_IF03/2_MeanFreq_ASD","freq":6.918e-3,"asd":7.943e-3},
   {"series":"Int_IF03/2_MeanFreq_ASD","freq":7.943e-3,"asd":6.026e-3},
   {"series":"Int_IF03/2_MeanFreq_ASD","freq":9.55e-3,"asd":7.079e-3},
   {"series":"Int_IF03/2_MeanFreq_ASD","freq":1.175e-2,"asd":5.248e-3},
   {"series":"Int_IF03/2_MeanFreq_ASD","freq":1.479e-2,"asd":5.012e-3},
   {"series":"Int_IF03/2_MeanFreq_ASD","freq":1.82e-2,"asd":3.802e-3},
   {"series":"Int_IF03/2_MeanFreq_ASD","freq":2.291e-2,"asd":3.631e-3},
   {"series":"Int_IF03/2_MeanFreq_ASD","freq":2.818e-2,"asd":2.818e-3},
   {"series":"Int_IF03/2_MeanFreq_ASD","freq":3.548e-2,"asd":2.63e-3},
   {"series":"Int_IF03/2_MeanFreq_ASD","freq":4.467e-2,"asd":2.089e-3},
   {"series":"Int_IF03/2_MeanFreq_ASD","freq":5.495e-2,"asd":1.95e-3},
   {"series":"Int_IF03/2_MeanFreq_ASD","freq":6.918e-2,"asd":1.66e-3},
   {"series":"Int_IF03/2_MeanFreq_ASD","freq":8.71e-2,"asd":1.288e-3}
  ],
  "ref": [
   {"series":"Req (1 pm *u(f))","freq":6.31e-6,"asd":0.2399},
   {"series":"Req (1 pm *u(f))","freq":3.162e-5,"asd":9.55e-3},
   {"series":"Req (1 pm *u(f))","freq":1e-4,"asd":9.55e-4},
   {"series":"Req (1 pm *u(f))","freq":3.162e-4,"asd":9.55e-5},
   {"series":"Req (1 pm *u(f))","freq":1e-3,"asd":9.6e-6},
   {"series":"Req (1 pm *u(f))","freq":1.778e-3,"asd":3.18e-6},
   {"series":"Req (1 pm *u(f))","freq":3.162e-3,"asd":1.383e-6},
   {"series":"Req (1 pm *u(f))","freq":5.623e-3,"asd":1.045e-6},
   {"series":"Req (1 pm *u(f))","freq":1e-2,"asd":1.005e-6},
   {"series":"Req (1 pm *u(f))","freq":3.162e-2,"asd":1.0e-6},
   {"series":"Req (1 pm *u(f))","freq":2.399,"asd":1.0e-6},
   {"series":"Freq. noise cont. (0.2 m, 2e+04/f Hz/sqrt(Hz))","freq":6.31e-6,"asd":1.778},
   {"series":"Freq. noise cont. (0.2 m, 2e+04/f Hz/sqrt(Hz))","freq":2.399,"asd":4.677e-6},
   {"series":"Freq. noise cont. (0.4 m, 2e+04/f Hz/sqrt(Hz))","freq":6.31e-6,"asd":3.548},
   {"series":"Freq. noise cont. (0.4 m, 2e+04/f Hz/sqrt(Hz))","freq":2.399,"asd":9.333e-6}
  ]
 },
 "encoding": {
  "x": {"field": "freq", "type": "quantitative", "scale": {"type": "log", "domain": [3.319e-6, 4.315], "nice": false},
   "axis": {"title": "Frequency [Hz]", "values": [4e-6,5e-6,6e-6,7e-6,8e-6,9e-6,1e-5,2e-5,3e-5,4e-5,5e-5,6e-5,7e-5,8e-5,9e-5,1e-4,2e-4,3e-4,4e-4,5e-4,6e-4,7e-4,8e-4,9e-4,1e-3,2e-3,3e-3,4e-3,5e-3,6e-3,7e-3,8e-3,9e-3,1e-2,2e-2,3e-2,4e-2,5e-2,6e-2,7e-2,8e-2,9e-2,0.1,0.2,0.3,0.4,0.5,0.6,0.7,0.8,0.9,1,2,3,4],
    "labelExpr": "abs(log(datum.value)/LN10 - round(log(datum.value)/LN10)) < 0.01 ? ['10⁻⁵','10⁻⁴','10⁻³','10⁻²','10⁻¹','10⁰'][round(log(datum.value)/LN10)+5] : ''",
    "tickSize": {"condition": {"test": "abs(log(datum.value)/LN10 - round(log(datum.value)/LN10)) < 0.01", "value": 3}, "value": 1.8},
    "gridOpacity": {"condition": {"test": "abs(log(datum.value)/LN10 - round(log(datum.value)/LN10)) < 0.01", "value": 1}, "value": 0},
    "labelPadding": 1, "labelFlush": false, "labelOverlap": false, "titleY": 12, "titleBaseline": "middle"}}
 },
 "layer": [
  {
   "data": {"name": "asd"},
   "transform": [{"filter": "isValid(datum.lo)"}],
   "mark": {"type": "area", "clip": true, "strokeWidth": 0},
   "encoding": {
    "y": {"field": "lo", "type": "quantitative", "scale": {"type": "log", "domain": [5.14e-7, 110.7], "nice": false},
     "axis": {"title": "cycles/sqrt(Hz)", "values": [1e-5, 1e-3, 0.1, 10],
      "labelExpr": "['10⁻⁵','','10⁻³','','10⁻¹','','10¹'][round(log(datum.value)/LN10)+5]",
      "tickSize": 3, "labelPadding": 1, "titleX": -20, "titleY": 187.5, "titleBaseline": "middle", "titleAlign": "center"}},
    "y2": {"field": "hi"},
    "fill": {"field": "series", "type": "nominal", "legend": null,
     "scale": {"domain": ["Int_IF03_MeanFreq_ASD", "Int_IF03/2_MeanFreq_ASD", "Int_IF02/1_MeanFreq_ASD", "Int_IF03/1_MeanFreq_ASD"],
      "range": ["rgba(65,115,15,0.5)", "rgba(140,86,75,0.3)", "rgba(214,39,40,0.3)", "rgba(148,103,189,0.3)"]}}
   }
  },
  {
   "data": {"name": "asd"},
   "transform": [{"filter": "datum.series === 'Int_IF03_MeanFreq_ASD'"}],
   "mark": {"type": "line", "clip": true, "strokeWidth": 0.9},
   "encoding": {
    "y": {"field": "asd", "type": "quantitative", "title": "cycles/sqrt(Hz)"},
    "stroke": {"field": "series", "type": "nominal",
     "scale": {"domain": ["Int_IF01_MeanFreq_ASD", "Int_IF02_MeanFreq_ASD", "Int_IF03_MeanFreq_ASD", "Int_IF02/1_MeanFreq_ASD", "Int_IF03/1_MeanFreq_ASD", "Int_IF03/2_MeanFreq_ASD", "Req (1 pm *u(f))", "Freq. noise cont. (0.2 m, 2e+04/f Hz/sqrt(Hz))", "Freq. noise cont. (0.4 m, 2e+04/f Hz/sqrt(Hz))"],
      "range": ["#1f77b4", "#ff7f0e", "#2ca02c", "#d62728", "#9467bd", "#8c564b", "#e377c2", "#7f7f7f", "#bcbd22"]},
     "legend": {"title": null, "orient": "none", "legendX": 438, "legendY": 2, "columns": 2}}
   }
  },
  {
   "data": {"name": "asd"},
   "transform": [{"filter": "datum.series === 'Int_IF02/1_MeanFreq_ASD'"}],
   "mark": {"type": "line", "clip": true, "strokeWidth": 0.7},
   "encoding": {
    "y": {"field": "asd", "type": "quantitative", "title": "cycles/sqrt(Hz)"},
    "stroke": {"field": "series", "type": "nominal"}
   }
  },
  {
   "data": {"name": "asd"},
   "transform": [{"filter": "datum.series === 'Int_IF03/1_MeanFreq_ASD'"}],
   "mark": {"type": "line", "clip": true, "strokeWidth": 1.2},
   "encoding": {
    "y": {"field": "asd", "type": "quantitative", "title": "cycles/sqrt(Hz)"},
    "stroke": {"field": "series", "type": "nominal"}
   }
  },
  {
   "data": {"name": "asd"},
   "transform": [{"filter": "datum.series === 'Int_IF03/2_MeanFreq_ASD'"}],
   "mark": {"type": "line", "clip": true, "strokeWidth": 0.9},
   "encoding": {
    "y": {"field": "asd", "type": "quantitative", "title": "cycles/sqrt(Hz)"},
    "stroke": {"field": "series", "type": "nominal"}
   }
  },
  {
   "data": {"name": "ref"},
   "mark": {"type": "line", "clip": true, "strokeWidth": 0.9},
   "encoding": {
    "y": {"field": "asd", "type": "quantitative", "title": "cycles/sqrt(Hz)"},
    "stroke": {"field": "series", "type": "nominal"}
   }
  }
 ]
}
